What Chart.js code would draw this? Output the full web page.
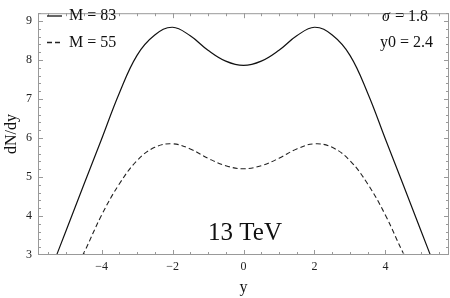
<!DOCTYPE html>
<html lang="en">

<head>
    <meta charset="UTF-8">
    <title>dN/dy 13 TeV</title>
    <script src="https://cdn.jsdelivr.net/npm/chart.js"></script>
    <style>
        body { margin: 0; background: #fff; }
        #wrap { width: 450px; height: 298px; }
    </style>
</head>

<body>
    <div id="wrap"><canvas id="myChart" width="450" height="298"></canvas></div>
    <script>
        // rapidity grid and the two curves
        const rapidity = [-5.8, -5.5, -5, -4.5, -4, -3.5, -3, -2.5, -2, -1.5, -1, -0.5, 0,
            0.5, 1, 1.5, 2, 2.5, 3, 3.5, 4, 4.5, 5, 5.5, 5.8];
        const m83 = [1.75, 2.45, 3.62, 4.8, 5.97, 7.15, 8.12, 8.64, 8.84, 8.62, 8.25, 7.97, 7.86,
            7.97, 8.25, 8.62, 8.84, 8.64, 8.12, 7.15, 5.97, 4.8, 3.62, 2.45, 1.75];
        const m55 = [0.8, 1.3, 2.2, 3.05, 4.02, 4.82, 5.42, 5.76, 5.85, 5.72, 5.48, 5.29, 5.21,
            5.29, 5.48, 5.72, 5.85, 5.76, 5.42, 4.82, 4.02, 3.05, 2.2, 1.3, 0.8];
        const seriesLabels = ['M = 83', 'M = 55'];
        const xTicks = [-4, -2, 0, 2, 4];
        const yTicks = [3, 4, 5, 6, 7, 8, 9];

        const serif = "'Liberation Serif', 'DejaVu Serif', serif";
        const frameColor = '#999';

        function pts(vals) {
            return rapidity.map((x, i) => ({ x: x, y: vals[i] }));
        }

        // frame, inward ticks, legend and the text notes
        const framePlugin = {
            id: 'frame',
            afterDraw(chart) {
                const c = chart.ctx;
                const a = chart.chartArea;
                const xs = chart.scales.x, ys = chart.scales.y;
                c.save();
                c.strokeStyle = frameColor;
                c.lineWidth = 1;
                c.strokeRect(a.left + 0.5, a.top + 0.5, a.right - a.left - 1, a.bottom - a.top - 1);
                c.beginPath();
                for (let v = -5.5; v <= 5.5001; v += 0.5) {
                    const px = Math.round(xs.getPixelForValue(v)) + 0.5;
                    const len = Math.abs(v % 2) < 0.001 ? 5 : 3;
                    c.moveTo(px, a.bottom); c.lineTo(px, a.bottom - len);
                    c.moveTo(px, a.top); c.lineTo(px, a.top + len);
                }
                for (let v = 3.2; v <= 9.2; v += 0.2) {
                    const py = Math.round(ys.getPixelForValue(v)) + 0.5;
                    const len = Math.abs(v - Math.round(v)) < 0.001 ? 5 : 3;
                    c.moveTo(a.left, py); c.lineTo(a.left + len, py);
                    c.moveTo(a.right, py); c.lineTo(a.right - len, py);
                }
                c.stroke();

                // legend
                c.fillStyle = '#111';
                c.font = '16px ' + serif;
                c.textBaseline = 'middle';
                chart.data.datasets.forEach((ds, i) => {
                    const y = 16 + i * 26.5;
                    c.strokeStyle = ds.borderColor;
                    c.lineWidth = 1.3;
                    c.setLineDash(ds.borderDash || []);
                    c.beginPath();
                    c.moveTo(47, y); c.lineTo(62, y);
                    c.stroke();
                    c.setLineDash([]);
                    c.fillText(ds.label, 69, y);
                });

                // parameters
                c.textAlign = 'left';
                c.font = 'italic 16px ' + serif;
                c.fillText('\u03c3', 382, 17);
                c.font = '16px ' + serif;
                c.fillText(' = 1.8', 391, 17);
                c.fillText('y0 = 2.4', 380, 43);

                c.font = '25px ' + serif;
                c.textAlign = 'center';
                c.textBaseline = 'alphabetic';
                c.fillText('13 TeV', 245, 240);
                c.restore();
            }
        };

        const ctx = document.getElementById('myChart');
        const myChart = new Chart(ctx, {
            type: 'line',
            data: {
                datasets: [
                    {
                        label: seriesLabels[0],
                        data: pts(m83),
                        borderColor: '#111',
                        borderWidth: 1.2,
                        pointRadius: 0,
                        fill: false,
                        tension: 0.4
                    },
                    {
                        label: seriesLabels[1],
                        data: pts(m55),
                        borderColor: '#222',
                        borderWidth: 1.1,
                        borderDash: [5, 3],
                        pointRadius: 0,
                        fill: false,
                        tension: 0.4
                    }
                ]
            },
            options: {
                responsive: false,
                animation: false,
                layout: { padding: { top: 1, right: 1, left: 0, bottom: 0 } },
                plugins: {
                    legend: { display: false },
                    tooltip: { enabled: false }
                },
                scales: {
                    x: {
                        type: 'linear',
                        min: -5.79,
                        max: 5.79,
                        afterFit(scale) { scale.height = 43; },
                        afterBuildTicks(scale) { scale.ticks = xTicks.map(v => ({ value: v })); },
                        grid: { display: false, drawTicks: false },
                        border: { display: false },
                        ticks: {
                            padding: 5,
                            color: '#222',
                            font: { family: serif, size: 12 },
                            callback: v => String(v).replace('-', '\u2212')
                        },
                        title: {
                            display: true,
                            text: 'y',
                            color: '#111',
                            font: { family: serif, size: 16 },
                            padding: { top: 0, bottom: 1 }
                        }
                    },
                    y: {
                        min: 3,
                        max: 9.2,
                        afterFit(scale) { scale.width = 38; },
                        afterBuildTicks(scale) { scale.ticks = yTicks.map(v => ({ value: v })); },
                        grid: { display: false, drawTicks: false },
                        border: { display: false },
                        ticks: {
                            padding: 6,
                            color: '#222',
                            font: { family: serif, size: 12 }
                        },
                        title: {
                            display: true,
                            text: 'dN/dy',
                            color: '#111',
                            font: { family: serif, size: 16 },
                            padding: { top: 2, bottom: 0 }
                        }
                    }
                }
            },
            plugins: [framePlugin]
        });
    </script>
</body>

</html>
